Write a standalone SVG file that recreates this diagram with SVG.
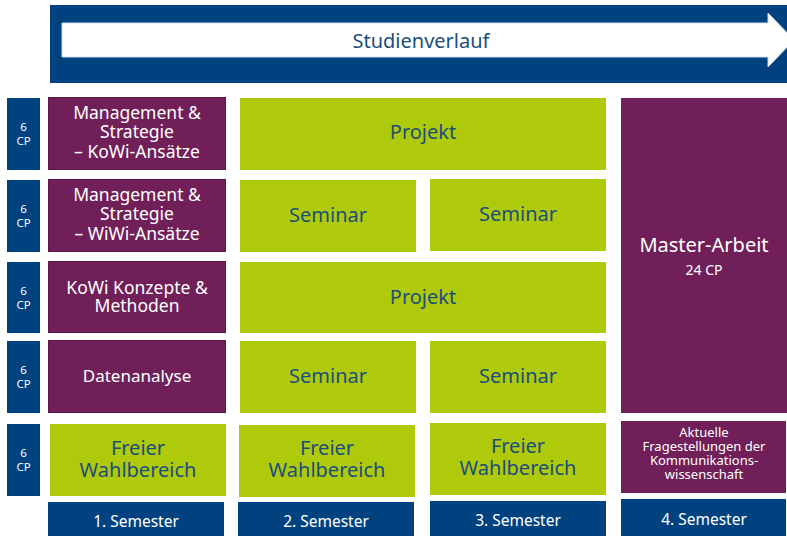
<svg xmlns="http://www.w3.org/2000/svg" width="787" height="536" viewBox="0 0 787 536">
<style>
text{font-family:"Noto Sans","Open Sans","DejaVu Sans",sans-serif;text-anchor:middle}
.blue{fill:#00427F}
.pur{fill:#701F59}
.purb{fill:#701F59;stroke:#5B1748;stroke-width:1}
.grn{fill:#AFC90B}
.cp{font-size:11.5px;fill:#FFFFFF}
.pt{font-size:17.5px;fill:#FFFFFF}
.gt{font-size:20px;fill:#1C4E7C}
.st{font-size:15.5px;fill:#FFFFFF}
.at{font-size:13px;fill:#FFFFFF}
</style>
<rect width="787" height="536" fill="#FFFFFF"/>
<g id="banner">
<rect class="blue" x="50" y="5" width="737" height="78"/>
<polygon points="62,23 768,23 768,13 794,40 768,67 768,57 62,57" fill="#FFFFFF" stroke="#D3DFEC" stroke-width="1"/>
<text x="421" y="48" style="font-size:20px;fill:#1C4E7C">Studienverlauf</text>
</g>
<g id="connectors"></g>
<g id="cp1"><rect class="blue" x="7" y="98" width="33" height="72"/><text class="cp" x="23.5" y="131">6</text><text class="cp" x="23.5" y="145">CP</text></g>
<g id="cp2"><rect class="blue" x="7" y="180" width="33" height="72"/><text class="cp" x="23.5" y="213">6</text><text class="cp" x="23.5" y="227">CP</text></g>
<g id="cp3"><rect class="blue" x="7" y="262" width="33" height="71"/><text class="cp" x="23.5" y="294.5">6</text><text class="cp" x="23.5" y="308.5">CP</text></g>
<g id="cp4"><rect class="blue" x="7" y="341" width="33" height="72"/><text class="cp" x="23.5" y="374">6</text><text class="cp" x="23.5" y="388">CP</text></g>
<g id="cp5"><rect class="blue" x="7" y="424" width="33" height="72"/><text class="cp" x="23.5" y="457">6</text><text class="cp" x="23.5" y="471">CP</text></g>
<g id="mgmt-kowi"><rect class="purb" x="48.5" y="97.5" width="177" height="72"/><text class="pt" x="137" y="118.5">Management &amp;</text><text class="pt" x="137" y="138">Strategie</text><text class="pt" x="137" y="157.5">– KoWi-Ansätze</text></g>
<g id="mgmt-wiwi"><rect class="purb" x="48.5" y="179.5" width="177" height="72"/><text class="pt" x="137" y="200.5">Management &amp;</text><text class="pt" x="137" y="220">Strategie</text><text class="pt" x="137" y="239.5">– WiWi-Ansätze</text></g>
<g id="kowi-konzepte"><rect class="purb" x="48.5" y="261.5" width="177" height="71"/><text class="pt" x="137" y="293.5">KoWi Konzepte &amp;</text><text class="pt" x="137" y="311.5">Methoden</text></g>
<g id="datenanalyse"><rect class="purb" x="48.5" y="340.5" width="177" height="72"/><text class="pt" x="137" y="382" style="font-size:17px">Datenanalyse</text></g>
<g id="freier1"><rect class="grn" x="50" y="424" width="176" height="72"/><text class="gt" x="138" y="455">Freier</text><text class="gt" x="138" y="477">Wahlbereich</text></g>
<g id="projekt1"><rect class="grn" x="240" y="98" width="366" height="72"/><text class="gt" x="423" y="139">Projekt</text></g>
<g id="seminar2a"><rect class="grn" x="240" y="180" width="176" height="72"/><text class="gt" x="328" y="222">Seminar</text></g>
<g id="seminar3a"><rect class="grn" x="430" y="179" width="176" height="72"/><text class="gt" x="518" y="221">Seminar</text></g>
<g id="projekt2"><rect class="grn" x="240" y="262" width="366" height="71"/><text class="gt" x="423" y="304">Projekt</text></g>
<g id="seminar2b"><rect class="grn" x="240" y="341" width="176" height="72"/><text class="gt" x="328" y="383">Seminar</text></g>
<g id="seminar3b"><rect class="grn" x="430" y="341" width="176" height="72"/><text class="gt" x="518" y="383">Seminar</text></g>
<g id="freier2"><rect class="grn" x="239" y="425" width="176" height="72"/><text class="gt" x="327" y="455">Freier</text><text class="gt" x="327" y="477">Wahlbereich</text></g>
<g id="freier3"><rect class="grn" x="430" y="423" width="176" height="72"/><text class="gt" x="518" y="453">Freier</text><text class="gt" x="518" y="475">Wahlbereich</text></g>
<g id="master"><rect class="pur" x="621" y="98" width="166" height="315"/><text x="704" y="252" style="font-size:20px;fill:#FFFFFF">Master-Arbeit</text><text x="704" y="275" style="font-size:14px;fill:#FFFFFF">24 CP</text></g>
<g id="aktuelle"><rect class="pur" x="621" y="421" width="165" height="72"/><text class="at" x="704" y="436.5">Aktuelle</text><text class="at" x="704" y="450.5">Fragestellungen der</text><text class="at" x="704" y="464.5">Kommunikations-</text><text class="at" x="704" y="478.5">wissenschaft</text></g>
<g id="sem1"><rect class="blue" x="48" y="502" width="176" height="34"/><text class="st" x="136" y="527">1. Semester</text></g>
<g id="sem2"><rect class="blue" x="238" y="502" width="176" height="34"/><text class="st" x="326" y="527">2. Semester</text></g>
<g id="sem3"><rect class="blue" x="430" y="501" width="176" height="35"/><text class="st" x="518" y="526">3. Semester</text></g>
<g id="sem4"><rect class="blue" x="621" y="499" width="165" height="37"/><text class="st" x="704" y="525">4. Semester</text></g>
</svg>
